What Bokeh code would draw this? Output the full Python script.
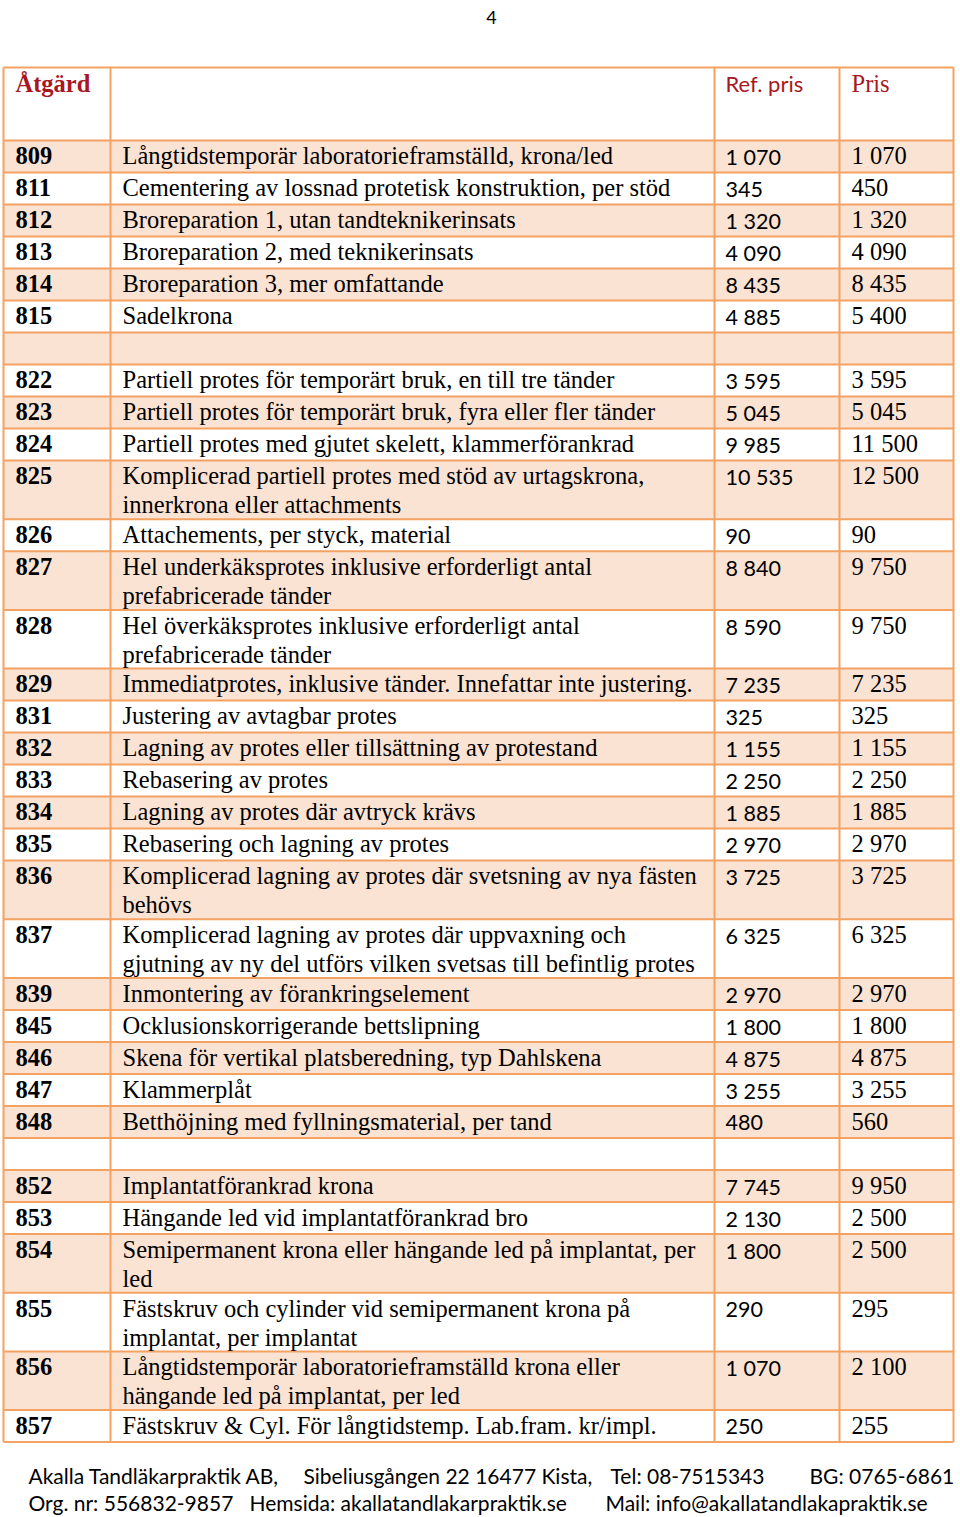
from bokeh.plotting import figure
from bokeh.models import Range1d, ColumnDataSource
from bokeh.embed import file_html
from bokeh.resources import INLINE
from bokeh.core.properties import value

# ---------------- data ----------------
header = ["Åtgärd", "", "Ref. pris", "Pris"]
page_number = "4"

codes = ["809", "811", "812", "813", "814", "815", "",
         "822", "823", "824", "825", "826", "827", "828", "829",
         "831", "832", "833", "834", "835", "836", "837", "839",
         "845", "846", "847", "848", "",
         "852", "853", "854", "855", "856", "857"]

descriptions = [
    "Långtidstemporär laboratorieframställd, krona/led",
    "Cementering av lossnad protetisk konstruktion, per stöd",
    "Broreparation 1, utan tandteknikerinsats",
    "Broreparation 2, med teknikerinsats",
    "Broreparation 3, mer omfattande",
    "Sadelkrona",
    "",
    "Partiell protes för temporärt bruk, en till tre tänder",
    "Partiell protes för temporärt bruk, fyra eller fler tänder",
    "Partiell protes med gjutet skelett, klammerförankrad",
    "Komplicerad partiell protes med stöd av urtagskrona,\ninnerkrona eller attachments",
    "Attachements, per styck, material",
    "Hel underkäksprotes inklusive erforderligt antal\nprefabricerade tänder",
    "Hel överkäksprotes inklusive erforderligt antal\nprefabricerade tänder",
    "Immediatprotes, inklusive tänder. Innefattar inte justering.",
    "Justering av avtagbar protes",
    "Lagning av protes eller tillsättning av protestand",
    "Rebasering av protes",
    "Lagning av protes där avtryck krävs",
    "Rebasering och lagning av protes",
    "Komplicerad lagning av protes där svetsning av nya fästen\nbehövs",
    "Komplicerad lagning av protes där uppvaxning och\ngjutning av ny del utförs vilken svetsas till befintlig protes",
    "Inmontering av förankringselement",
    "Ocklusionskorrigerande bettslipning",
    "Skena för vertikal platsberedning, typ Dahlskena",
    "Klammerplåt",
    "Betthöjning med fyllningsmaterial, per tand",
    "",
    "Implantatförankrad krona",
    "Hängande led vid implantatförankrad bro",
    "Semipermanent krona eller hängande led på implantat, per\nled",
    "Fästskruv och cylinder vid semipermanent krona på\nimplantat, per implantat",
    "Långtidstemporär laboratorieframställd krona eller\nhängande led på implantat, per led",
    "Fästskruv & Cyl. För långtidstemp. Lab.fram. kr/impl.",
]

ref_prices = ["1 070", "345", "1 320", "4 090", "8 435", "4 885", "",
              "3 595", "5 045", "9 985", "10 535", "90", "8 840", "8 590", "7 235",
              "325", "1 155", "2 250", "1 885", "2 970", "3 725", "6 325", "2 970",
              "1 800", "4 875", "3 255", "480", "",
              "7 745", "2 130", "1 800", "290", "1 070", "250"]

prices = ["1 070", "450", "1 320", "4 090", "8 435", "5 400", "",
          "3 595", "5 045", "11 500", "12 500", "90", "9 750", "9 750", "7 235",
          "325", "1 155", "2 250", "1 885", "2 970", "3 725", "6 325", "2 970",
          "1 800", "4 875", "3 255", "560", "",
          "9 950", "2 500", "2 500", "295", "2 100", "255"]

footer_line1 = ["Akalla Tandläkarpraktik AB,", "Sibeliusgången 22  16477 Kista,",
                "Tel: 08-7515343", "BG: 0765-6861"]
footer_line2 = ["Org. nr: 556832-9857", "Hemsida: akallatandlakarpraktik.se",
                "Mail: info@akallatandlakapraktik.se"]

# ---------------- layout ----------------
RED = "#a8171f"
BORDER = "#f3a262"
SHADE = "#fbe3d3"
SERIF = "Liberation Serif"
SANS = "Lato"

col_edges = [3, 110, 714, 839, 953]
text_x = [15, 122, 725, 851]
table_top = 67
header_h = 73
row_h1 = 32
extra_line = 26.7
line_gap = 29

p = figure(width=960, height=1517, output_backend="svg", toolbar_location=None,
           x_range=Range1d(0, 960), y_range=Range1d(1517, 0),
           min_border=0, outline_line_color=None, background_fill_color="white")
p.axis.visible = False
p.grid.visible = False

# row geometry
tops, bottoms = [], []
y = table_top + header_h
for d in descriptions:
    n = max(1, len(d.split("\n")))
    h = row_h1 + extra_line * (n - 1)
    tops.append(y)
    bottoms.append(y + h)
    y += h
table_bottom = y

# shading
shade_idx = [i for i in range(len(codes)) if i % 2 == 0]
p.quad(left=[col_edges[0]] * len(shade_idx), right=[col_edges[-1]] * len(shade_idx),
       top=[tops[i] for i in shade_idx], bottom=[bottoms[i] for i in shade_idx],
       fill_color=SHADE, line_color=None)

# grid lines
hy = [table_top, table_top + header_h] + bottoms
p.segment(x0=[col_edges[0]] * len(hy), x1=[col_edges[-1]] * len(hy), y0=hy, y1=hy,
          line_color=BORDER, line_width=2)
p.segment(x0=col_edges, x1=col_edges, y0=[table_top] * 5, y1=[table_bottom] * 5,
          line_color=BORDER, line_width=2)

# header
hy_c = table_top + 16
p.text(x=[text_x[0]], y=[hy_c], text=[header[0]], text_font=value(SERIF),
       text_font_style="bold", text_font_size="24.5px", text_color=RED,
       text_baseline="middle", text_align="left")
p.text(x=[text_x[2]], y=[hy_c], text=[header[2]], text_font=value(SANS),
       text_font_size="22px", text_color=RED, text_baseline="middle", text_align="left")
p.text(x=[text_x[3]], y=[hy_c], text=[header[3]], text_font=value(SERIF),
       text_font_size="24.5px", text_color=RED, text_baseline="middle", text_align="left")

# body text
cx, cy, ct = [], [], []
dx, dy, dt = [], [], []
for i, (c, d) in enumerate(zip(codes, descriptions)):
    yc = tops[i] + 15.3
    if c:
        cx.append(text_x[0]); cy.append(yc); ct.append(c)
    for k, line in enumerate(d.split("\n")):
        if line:
            dx.append(text_x[1]); dy.append(yc + k * line_gap); dt.append(line)

p.text(x=cx, y=cy, text=ct, text_font=value(SERIF), text_font_style="bold",
       text_font_size="24.5px", text_color="black", text_baseline="middle", text_align="left")
p.text(x=dx, y=dy, text=dt, text_font=value(SERIF),
       text_font_size="24.5px", text_color="black", text_baseline="middle", text_align="left")

rsrc = ColumnDataSource(dict(x=[text_x[2]] * len(ref_prices),
                             y=[t + 16.8 for t in tops], t=ref_prices))
p.text(x="x", y="y", text="t", source=rsrc, text_font=value(SANS),
       text_font_size="21.5px", text_color="black", text_baseline="middle", text_align="left")
psrc = ColumnDataSource(dict(x=[text_x[3]] * len(prices),
                             y=[t + 15.3 for t in tops], t=prices))
p.text(x="x", y="y", text="t", source=psrc, text_font=value(SERIF),
       text_font_size="24.5px", text_color="black", text_baseline="middle", text_align="left")

# page number
p.text(x=[491], y=[17], text=[page_number], text_font=value(SANS),
       text_font_size="18px", text_color="black", text_baseline="alphabetic", text_align="center")

# footer
f1x = [28, 303, 610, 809]
f2x = [28, 249, 605]
p.text(x=f1x, y=[1475] * 4, text=footer_line1, text_font=value(SANS),
       text_font_size="21px", text_color="black", text_baseline="middle", text_align="left")
p.text(x=f2x, y=[1502] * 3, text=footer_line2, text_font=value(SANS),
       text_font_size="21px", text_color="black", text_baseline="middle", text_align="left")

open("out.html", "w").write(file_html(p, INLINE))
